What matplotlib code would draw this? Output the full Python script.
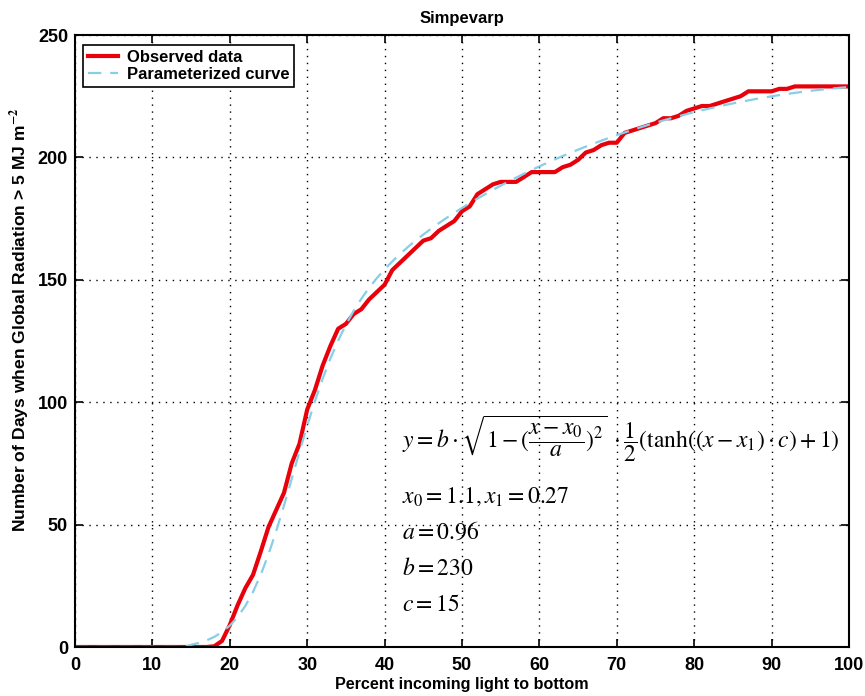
import numpy as np
import matplotlib
matplotlib.use("Agg")
import matplotlib.pyplot as plt

plt.rcParams['font.family'] = ['Liberation Sans', 'DejaVu Sans']
plt.rcParams['mathtext.fontset'] = 'stix'

# Observed number of days vs. percent incoming light reaching the bottom
light_pct = list(range(0, 101))
days_observed = (
    [0] * 18 +
    [0.3, 2.5, 9, 17, 24, 29.5, 39, 49, 56, 63,
     75, 83, 97, 105, 115, 123, 130, 132, 136, 138,
     142, 145, 148, 154, 157, 160, 163, 166, 167, 170,
     172, 174, 178, 180, 185, 187, 189, 190, 190, 190,
     192, 194, 194, 194, 194, 196, 197, 199, 202, 203,
     205, 206, 206, 210, 211, 212, 213, 214, 216, 216,
     217, 219, 220, 221, 221, 222, 223, 224, 225, 227,
     227, 227, 227, 228, 228] +
    [229] * 8
)

# Parameters of the fitted curve
x0, x1 = 1.1, 0.27
a, b, c = 0.96, 230, 15

frac = np.array(light_pct) / 100.0
root = np.sqrt(np.clip(1 - ((frac - x0) / a) ** 2, 0, None))
days_fit = b * root * 0.5 * (np.tanh((frac - x1) * c) + 1)

fig = plt.figure(figsize=(8.65, 6.96), dpi=100)
ax = fig.add_axes([0.0867, 0.0704, 0.8948, 0.8793])

ax.plot(light_pct, days_observed, color='#e8000b', lw=3.0, label='Observed data',
        solid_joinstyle='round')
ax.plot(light_pct, days_fit, color='#87cee8', lw=1.6, ls=(0, (6, 4)),
        label='Parameterized curve')

ax.set_xlim(0, 100)
ax.set_ylim(0, 250)
ax.set_xticks(np.arange(0, 101, 10))
ax.set_yticks(np.arange(0, 251, 50))
ax.grid(True, color='black', ls=(0, (1, 4)), lw=1.0)
ax.tick_params(direction='in', top=True, right=True, length=6, width=1.2,
               labelsize=13)
ax.tick_params(axis='x', pad=7.5)
ax.tick_params(axis='y', pad=5)
for lab in ax.get_xticklabels() + ax.get_yticklabels():
    lab.set_fontweight('bold')
for sp in ax.spines.values():
    sp.set_linewidth(1.5)

ax.set_title('Simpevarp', fontsize=12, fontweight='bold', pad=9)
ax.set_xlabel('Percent incoming light to bottom', fontsize=11.6, fontweight='bold',
              labelpad=2)
ax.set_ylabel('Number of Days when Global Radiation > 5 MJ m$^{\\mathbf{-2}}$',
              fontsize=12.6, fontweight='bold')
ax.yaxis.set_label_coords(-0.056, 0.535)

leg = ax.legend(loc='upper left', prop={'weight': 'bold', 'size': 12},
                fancybox=False, edgecolor='black', framealpha=1,
                handlelength=1.8, handletextpad=0.5, borderpad=0.3,
                labelspacing=0.15, bbox_to_anchor=(0.002, 0.995),
                borderaxespad=0.4)
leg.get_frame().set_linewidth(1.2)

fs = 17
ax.text(42.3, 85,
        r'$y = b\cdot\sqrt{1-(\dfrac{x-x_0}{a})^2}\;\cdot\dfrac{1}{2}\left(\tanh((x-x_1)\cdot c)+1\right)$',
        fontsize=fs, va='center', ha='left')
ax.text(42.3, 61.5, r'$x_0 = 1.1, x_1 = 0.27$', fontsize=fs, va='center')
ax.text(42.3, 47, r'$a = 0.96$', fontsize=fs, va='center')
ax.text(42.3, 32, r'$b = 230$', fontsize=fs, va='center')
ax.text(42.3, 17, r'$c = 15$', fontsize=fs, va='center')

fig.savefig('out.png', dpi=100)
